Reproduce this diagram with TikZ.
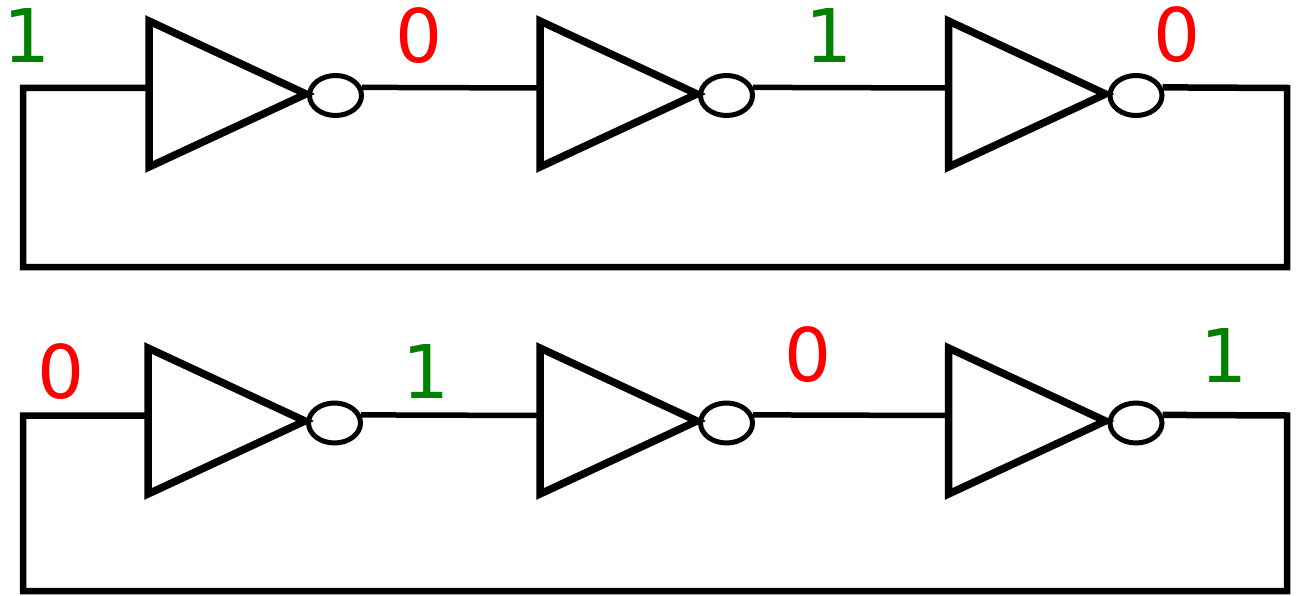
\documentclass[tikz,border=0pt]{standalone}
\usepackage{fontspec}
\newfontfamily\labelfont{DejaVu Sans}
\usetikzlibrary{shapes.geometric}
\definecolor{sgreen}{RGB}{0,128,0}
\definecolor{sred}{RGB}{255,0,0}
\begin{document}
\begin{tikzpicture}[x=1pt,y=-1pt,
  tri/.style={line width=7.5pt, line join=miter},
  bubble/.style={ellipse, draw, line width=5pt, minimum width=52pt, minimum height=40pt, inner sep=0pt},
  wire/.style={line width=5.5pt},
  loopline/.style={line width=6.5pt, line join=miter},
  lbl/.style={inner sep=0pt, font=\labelfont\fontsize{74}{80}\selectfont},
  one/.style={lbl, text=sgreen},
  zero/.style={lbl, text=sred}]
\useasboundingbox (0,0) rectangle (1297,596);
% ---------- top row ----------
\foreach \n/\L/\B in {1/149/335.5, 2/540/726.5, 3/948.5/1136}{
  \draw[tri] (\L,21) -- (\L,167) -- (\L+157,94) -- cycle;
  \node[bubble] (tb\n) at (\B,95.5) {};
  \coordinate (ti\n) at (\L,88);
}
\coordinate (tl) at (23,88);
\coordinate (tbl) at (23,267);
\coordinate (tbr) at (1287,267);
\coordinate (tr) at (1287,88);
\draw[wire] (tb1.17) -- (ti2);
\draw[wire] (tb2.17) -- (ti3);
\draw[loopline] (ti1) -- (tl) -- (tbl) -- (tbr) -- (tr) -- (tb3.17);
\node[one]  (tlab1) at (27.5,36) {1};
\node[zero] (tlab2) at (419.5,36) {0};
\node[one]  (tlab3) at (829,36) {1};
\node[zero] (tlab4) at (1177,35) {0};
% ---------- bottom row ----------
\foreach \n/\L/\B in {1/148/334.5, 2/540/726.5, 3/948.5/1136}{
  \draw[tri] (\L,348) -- (\L,494) -- (\L+157,421) -- cycle;
  \node[bubble] (bb\n) at (\B,423) {};
  \coordinate (bi\n) at (\L,415.5);
}
\coordinate (bl) at (23,415.5);
\coordinate (bbl) at (23,591);
\coordinate (bbr) at (1287,591);
\coordinate (br) at (1287,415.5);
\draw[wire] (bb1.17) -- (bi2);
\draw[wire] (bb2.17) -- (bi3);
\draw[loopline] (bi1) -- (bl) -- (bbl) -- (bbr) -- (br) -- (bb3.17);
\node[zero] (blab1) at (61.5,372) {0};
\node[one]  (blab2) at (426,372) {1};
\node[zero] (blab3) at (808,355) {0};
\node[one]  (blab4) at (1224,356) {1};
\end{tikzpicture}
\end{document}
